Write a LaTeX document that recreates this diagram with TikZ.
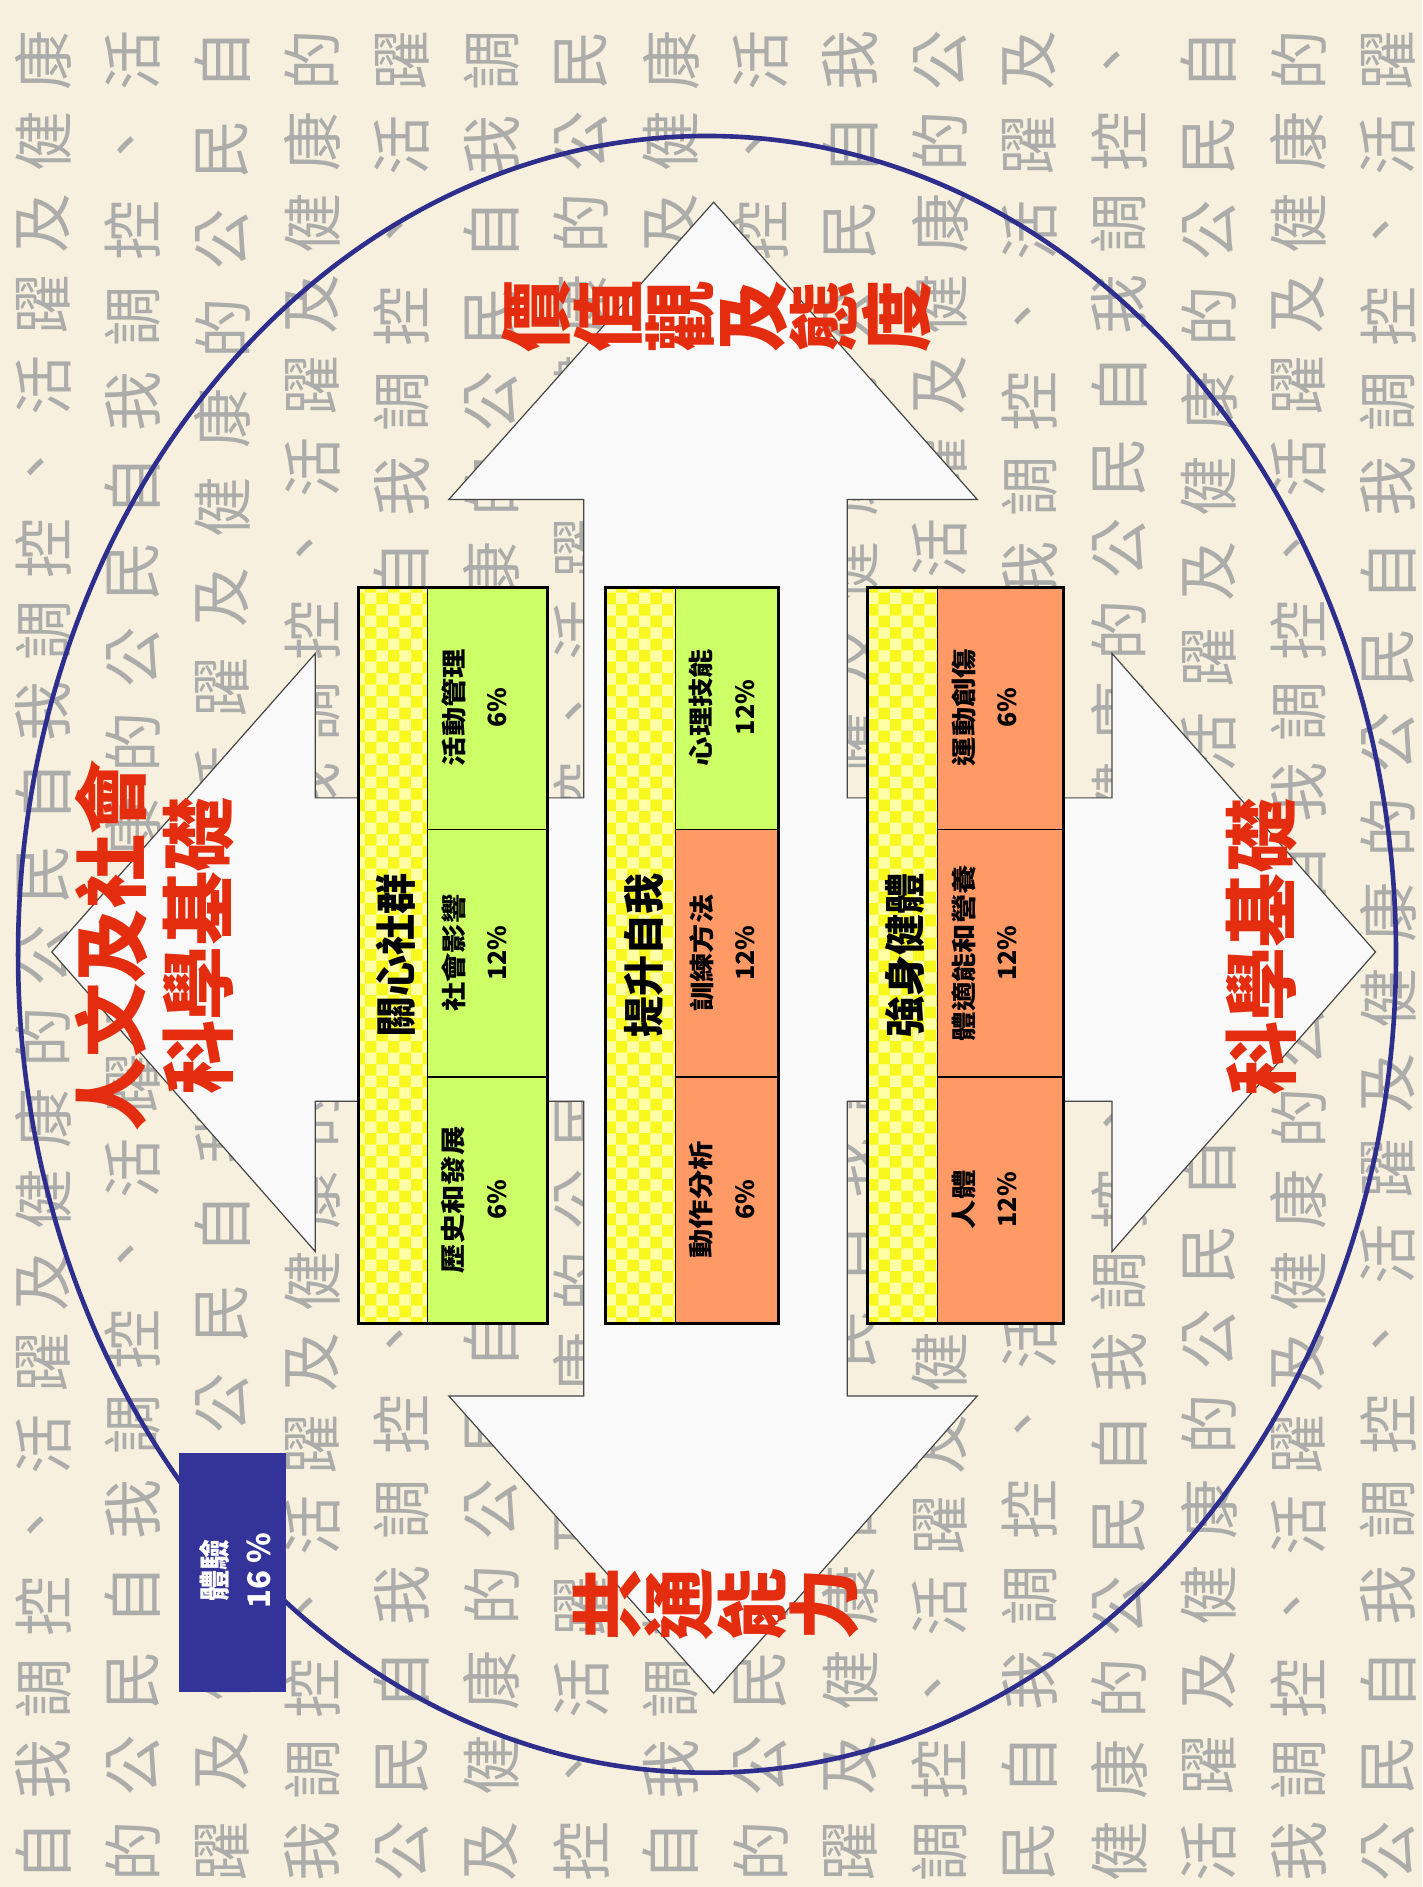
\documentclass[tikz,border=0pt]{standalone}
\usepackage{fontspec}
\setmainfont{Liberation Sans}
\newfontfamily\cjk{Noto Sans CJK TC}
\newfontfamily\cjkw[FakeStretch=1.17]{Noto Sans CJK TC}
\usetikzlibrary{patterns}
\definecolor{bgc}{RGB}{248,240,222}
\definecolor{texc}{RGB}{172,172,170}
\definecolor{ringc}{RGB}{46,46,140}
\definecolor{arrowfill}{RGB}{249,249,249}
\definecolor{arrowline}{RGB}{70,70,70}
\definecolor{cellg}{RGB}{204,255,102}
\definecolor{cello}{RGB}{255,153,102}
\definecolor{hdry}{RGB}{248,248,30}
\definecolor{hdrl}{RGB}{255,255,165}
\definecolor{redl}{RGB}{228,45,15}
\definecolor{blueb}{RGB}{51,51,153}
\newcommand\tchar[1]{\ifcase#1 自\or 我\or 調\or 控\or 、\or 活\or 躍\or 及\or 健\or 康\or 的\or 公\or 民\fi}
\newcommand\pct[1]{{\cjk\bfseries #1}}
\tikzset{
 texnode/.style={rotate=90, inner sep=0pt, text=texc, font=\cjk\fontsize{30}{30}\selectfont},
 crossarrow/.style={fill=arrowfill, draw=arrowline, line width=0.6pt, line join=miter},
 outerbox/.style={draw=black, line width=1.6pt},
 divider/.style={draw=black, line width=0.6pt},
 celltxt/.style={rotate=90, align=center, inner sep=0pt, font=\bfseries\fontsize{12.5}{21.6}\selectfont},
 hdrtxt/.style={rotate=90, inner sep=0pt, font=\cjk\bfseries\fontsize{20.5}{22}\selectfont},
 redlabel/.style={rotate=90, align=center, inner sep=0pt, text=redl, font=\cjk\bfseries\fontsize{37}{43.8}\selectfont},
 redvert/.style={rotate=90, align=center, inner sep=0pt, text=redl, font=\cjk\bfseries\fontsize{36}{36}\selectfont},
 bluetxt/.style={rotate=90, align=center, inner sep=0pt, text=white, font=\bfseries\fontsize{15.5}{22}\selectfont},
}
\begin{document}
\begin{tikzpicture}[x=0.6pt,y=-0.6pt]
\useasboundingbox (0,0) rectangle (1182,1568);
\fill[bgc] (0,0) rectangle (1182,1568);
% background texture
\foreach \col/\st/\n in {0/0/23, 1/23/22, 2/45/21, 3/66/23, 4/89/22, 5/111/22, 6/133/23, 7/156/23, 8/179/22, 9/201/22, 10/223/23, 11/246/22, 12/268/23, 13/291/22, 14/313/23, 15/336/22}{
  \pgfmathsetmacro\pitch{1488/(\n-1)}
  \pgfmathtruncatemacro\last{\n-1}
  \foreach \j in {0,...,\last}{
    \pgfmathtruncatemacro\k{mod(\st+\j,13)}
    \node[texnode] (t\col-\j) at ({36+74.5*\col},{1538-\j*\pitch}) {\tchar{\k}};
  }
}
% ring
\draw[ringc, line width=2.3pt] (587.5,793) ellipse [x radius=572.5, y radius=680];
% four-way arrow
\draw[crossarrow] (593,168) -- (812,415) -- (704,415) -- (704,663) -- (924,663) -- (924,543)
  -- (1143,791) -- (924,1040) -- (924,915) -- (704,915) -- (704,1160) -- (812,1160)
  -- (593,1407) -- (373,1160) -- (485,1160) -- (485,915) -- (262,915) -- (262,1040)
  -- (43,791) -- (262,543) -- (262,663) -- (485,663) -- (485,415) -- (373,415) -- cycle;
% box 1
\fill[hdry] (298,488) rectangle (355,1100);
\fill[pattern=checkerboard, pattern color=hdrl] (298,488) rectangle (355,1100);
\fill[cellg] (355,488) rectangle (455,1100);
\draw[divider] (355,488) -- (355,1100) (355,689) -- (455,689) (355,895) -- (455,895);
\draw[outerbox] (298,488) rectangle (455,1100);
% box 2
\fill[hdry] (503,488) rectangle (561,1100);
\fill[pattern=checkerboard, pattern color=hdrl] (503,488) rectangle (561,1100);
\fill[cellg] (561,488) rectangle (647,689);
\fill[cello] (561,689) rectangle (647,1100);
\draw[divider] (561,488) -- (561,1100) (561,689) -- (647,689) (561,895) -- (647,895);
\draw[outerbox] (503,488) rectangle (647,1100);
% box 3
\fill[hdry] (721,488) rectangle (779,1100);
\fill[pattern=checkerboard, pattern color=hdrl] (721,488) rectangle (779,1100);
\fill[cello] (779,488) rectangle (884,1100);
\draw[divider] (779,488) -- (779,1100) (779,689) -- (884,689) (779,895) -- (884,895);
\draw[outerbox] (721,488) rectangle (884,1100);
% headers
\node[hdrtxt] (h1) at (329,794) {關心社群};
\node[hdrtxt] (h2) at (535,794) {提升自我};
\node[hdrtxt] (h3) at (752,794) {強身健體};
% cell texts
\node[celltxt] (c11) at (394,997) {{\cjkw 歷史和發展}\\\pct{6\%}};
\node[celltxt] (c12) at (394,792) {{\cjkw 社會影響}\\\pct{12\%}};
\node[celltxt] (c13) at (394,588) {{\cjkw 活動管理}\\\pct{6\%}};
\node[celltxt] (c21) at (600,997) {{\cjkw 動作分析}\\\pct{6\%}};
\node[celltxt] (c22) at (600,792) {{\cjkw 訓練方法}\\\pct{12\%}};
\node[celltxt] (c23) at (600,588) {{\cjkw 心理技能}\\\pct{12\%}};
\node[celltxt] (c31) at (818,997) {{\cjkw 人體}\\\pct{12\%}};
\node[celltxt] (c32) at (818,792) {{\cjkw 體適能和營養}\\\pct{12\%}};
\node[celltxt] (c33) at (818,588) {{\cjkw 運動創傷}\\\pct{6\%}};
% red labels
\node[redlabel] (lt) at (128.5,786) {人文及社會\\科學基礎};
\node[redlabel] (lb) at (1048,787) {科學基礎};
\node[redvert] (lr) at (595,263) {價\\值\\觀\\及\\態\\度};
\node[redvert] (ll) at (595,1333) {共\\通\\能\\力};
% blue box
\fill[blueb] (149,1207) rectangle (238,1406);
\node[bluetxt] (bx) at (195.5,1305) {{\cjk\bfseries 體驗}\\\pct{16 \%}};
\end{tikzpicture}
\end{document}
